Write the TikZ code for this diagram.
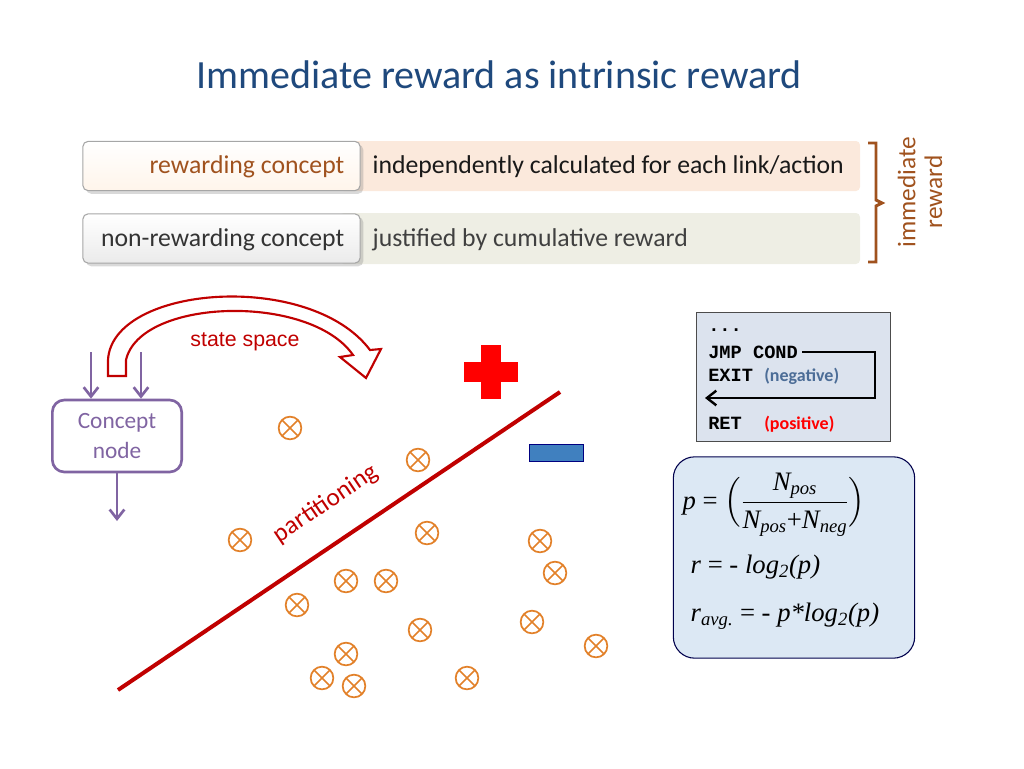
\documentclass[tikz,border=0pt]{standalone}
\usepackage{amsmath}
\usepackage{fontspec}
\setmainfont{Carlito}
\newfontfamily\arialf{Liberation Sans}
\newfontfamily\monof{Liberation Mono}
\newfontfamily\timesf{Liberation Serif}
\usetikzlibrary{shadows,arrows.meta}
\definecolor{titleblue}{HTML}{1F497D}
\definecolor{brownc}{HTML}{A0521E}
\definecolor{orangec}{HTML}{E2812A}
\definecolor{redc}{HTML}{C00000}
\definecolor{purplec}{HTML}{8064A2}
\definecolor{band1}{HTML}{FBE9DC}
\definecolor{band2}{HTML}{EEEEE4}
\definecolor{codefill}{HTML}{DCE3EE}
\definecolor{formfill}{HTML}{DCE8F4}
\newcommand\ti[1]{\text{\timesf\itshape #1}}
\tikzset{
  btn/.style={draw=gray!70, rounded corners=4pt, top color=white, bottom color=orange!8, drop shadow={opacity=0.3}, line width=0.8pt},
  xmark/.style={draw=orangec, line width=1.3pt, circle, minimum size=17pt, inner sep=0pt, path picture={\draw[orangec, line width=1.3pt] (path picture bounding box.north west)--(path picture bounding box.south east) (path picture bounding box.north east)--(path picture bounding box.south west);}},
  parr/.style={purplec, line width=2pt, -{Straight Barb[length=7pt,width=11pt]}},
  big/.style={font=\fontsize{19.3}{22}\selectfont},
}
\begin{document}
\begin{tikzpicture}[x=0.75pt,y=-0.75pt]
\useasboundingbox (0,0) rectangle (1024,768);
\node[font=\fontsize{30}{36}\selectfont, text=titleblue] (title) at (499,75) {Immediate reward as intrinsic reward};
% bands
\fill[band1, rounded corners=3pt] (340,141) rectangle (860,191);
\fill[band2, rounded corners=3pt] (340,213) rectangle (860,264);
\node[btn, minimum width=208pt, minimum height=37pt] (b1) at (221.5,166) {};
\node[btn, minimum width=208pt, minimum height=37pt, bottom color=black!8] (b2) at (221.5,238.5) {};
\node[big, anchor=east, brownc] (t1) at (349,167) {rewarding concept};
\node[big, anchor=east, black!80] (t2) at (349,240) {non-rewarding concept};
\node[big, anchor=west, black!90] (t3) at (368,167) {independently calculated for each link/action};
\node[big, anchor=west, black!75] (t4) at (368,240) {justified by cumulative reward};
\draw[brownc, line width=2.2pt] (868,143) -- (876,143) -- (876,200) -- (882,203) -- (876,206) -- (876,262) -- (868,262);
\node[rotate=90, brownc, align=center, font=\fontsize{19}{20}\selectfont] (imm) at (920,192) {immediate\\reward};
% code box
\node[draw=black!70, fill=codefill, minimum width=145pt, minimum height=97pt, line width=0.8pt] (code) at (793.5,377) {};
\tikzset{codet/.style={anchor=west, inner sep=0pt, font=\monof\bfseries\fontsize{14}{16}\selectfont}}
\node[codet] (c1) at (708,330) {...};
\node[codet] (c2) at (708,352) {JMP COND};
\node[codet] (c3) at (708,376) {EXIT {\fontspec{Carlito}\bfseries\fontsize{13.5}{16}\selectfont\color{titleblue!80}(negative)}};
\node[codet] (c4) at (708,424) {RET \ {\fontspec{Carlito}\bfseries\fontsize{13.5}{16}\selectfont\color{red}(positive)}};
\draw[line width=1.8pt, -{Straight Barb[length=7pt,width=11pt]}] (c2.east) ++(4,0) -- (875,352) -- (875,398) -- (705,398);
% formula box
\node[draw=black!70!blue, fill=formfill, rounded corners=16pt, minimum width=181pt, minimum height=151pt, line width=0.8pt] (fbox) at (794,557.5) {};
\node[anchor=west, font=\timesf\itshape\fontsize{20}{24}\selectfont] (f1) at (678,505) {p \upshape= $\Bigl(\dfrac{\ti{N\textsubscript{pos}}}{\ti{N\textsubscript{pos}}\text{\timesf+}\ti{N\textsubscript{neg}}}\Bigr)$};
\node[anchor=west, font=\timesf\itshape\fontsize{20}{24}\selectfont] (f2) at (686,567) {r \upshape= - \itshape log\textsubscript{2}(p)};
\node[anchor=west, font=\timesf\itshape\fontsize{20}{24}\selectfont] (f3) at (686,616) {r\textsubscript{avg.} \upshape= - \itshape p*log\textsubscript{2}(p)};
% concept node
\node[draw=purplec, line width=2pt, rounded corners=9pt, minimum width=97pt, minimum height=54pt, align=center, text=purplec, font=\fontsize{17.5}{23}\selectfont] (cn) at (117,436) {Concept\\node};
\coordinate (i1) at (91,352); \coordinate (i2) at (141,352); \coordinate (o1) at (117,521);
\draw[parr] (i1) -- (i1 |- cn.north);
\draw[parr] (i2) -- (i2 |- cn.north);
\draw[parr] (cn.south) -- (o1);
% curved hollow arrow
\draw[redc, line width=1.6pt, fill=white, line join=miter] (108,376) -- (108,360) .. controls (112,285) and (310,270) .. (370,350) -- (381,349) -- (366,378) -- (340,357) -- (353,355) .. controls (310,293) and (140,298) .. (126,360) -- (126,376) -- cycle;
\node[redc, font=\arialf\fontsize{16}{18}\selectfont] (ss) at (245,342) {state space};
% partition line
\coordinate (l1) at (118,690); \coordinate (l2) at (560,392);
\draw[redc, line width=3pt] (l1) -- (l2);
\node[redc, rotate=34, font=\fontsize{19}{22}\selectfont] (part) at (326,504) {partitioning};
% plus and minus
\fill[red] (481,345) rectangle (501,399);
\fill[red] (464,362) rectangle (518,382);
\draw[fill=blue!50!cyan!50!gray, draw=blue!50!black] (529,444) rectangle (583,461);
% marks
\foreach \p [count=\i] in {(290,428),(418,460),(240,540),(427,533),(540,541),(555,573),(346,581),(386,581),(297,605),(420,630),(532,622),(596,646),(346,654),(322,678),(354,686),(467,678)}
  \node[xmark] (m\i) at \p {};
\end{tikzpicture}
\end{document}
